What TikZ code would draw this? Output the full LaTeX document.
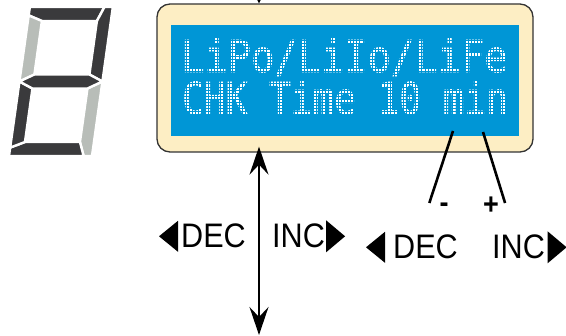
\documentclass[tikz,border=0pt]{standalone}
\usepackage{fontspec}
\usetikzlibrary{arrows.meta,calc}
\newfontfamily\lcdfonta[FakeStretch=0.88, FakeBold=1.4]{DejaVu Sans Mono}
\newfontfamily\lcdfontb[FakeStretch=0.82, FakeBold=1.4]{DejaVu Sans Mono}
\newfontfamily\keyfont[FakeStretch=0.9]{Liberation Sans}
\definecolor{lcdblue}{RGB}{0,150,214}
\definecolor{lcdcream}{RGB}{253,238,196}
\definecolor{segdark}{RGB}{58,58,60}
\definecolor{seggrey}{RGB}{184,189,184}

% triangulitos de las teclas
\newcommand\trizq[2]{\fill ($(#1.west)+(-#2,0)$) -- ++(0,15.5) -- ++(-19,-15.5) -- ++(19,-15.5) -- cycle;}
\newcommand\trder[2]{\fill ($(#1.east)+(#2,0)$) -- ++(0,16) -- ++(19,-16) -- ++(-19,-16) -- cycle;}

\tikzset{
  estilo display/.style={
      x=1pt, y=-1pt,
      lcdframe/.style={draw=black!80, line width=1.3pt, fill=lcdcream, rounded corners=13pt,
          minimum width=376pt, minimum height=148pt, inner sep=0pt},
      lcdscreen/.style={fill=lcdblue, minimum width=348pt, minimum height=111pt, inner sep=0pt},
      lcdtext/.style={text=white, inner sep=0pt, anchor=base west},
      keylbl/.style={font={\keyfont\fontsize{34}{34}\selectfont}, inner sep=0pt, anchor=base west},
      signo/.style={font={\keyfont\bfseries\fontsize{30}{30}\selectfont}, inner sep=0pt},
      segon/.style={fill=segdark, draw=white, line width=2.4pt, line join=round},
      segoff/.style={fill=seggrey, draw=white, line width=2.4pt, line join=round},
      doble/.style={arrows={Stealth[length=28pt, width=19pt, inset=10pt]-Stealth[length=28pt, width=19pt, inset=10pt]},
          line width=2pt},
      pata/.style={line width=2.6pt},
    },
}

\begin{document}
\begin{tikzpicture}[estilo display]
  \useasboundingbox (0,0) rectangle (566,336);

  % display
  \node[lcdframe] (frame) at (345,78) {};
  \node[lcdscreen] (screen) at (345,80.5) {};
  \node[lcdtext, font={\lcdfonta\fontsize{44}{44}\selectfont}] (linea1) at (181,72) {LiPo/LiIo/LiFe};
  \node[lcdtext, font={\lcdfontb\fontsize{44}{44}\selectfont}] (linea2) at (182,114) {CHK Time 10 min};
  \draw[lcdblue, line width=0.4pt, step=3.1pt] (171,136) grid (519,25);

  % flechas
  \coordinate (arriba) at (259,-2);
  \coordinate (abajo) at (259,335);
  \draw[-{Stealth[length=5pt, width=5pt]}, line width=1pt] (arriba) -- (arriba |- frame.north);
  \draw[doble, shorten <=-6pt] (abajo |- frame.south) -- (abajo);

  % teclas
  \node[keylbl] (decU) at (181,248) {DEC};
  \node[keylbl] (incU) at (272,248) {INC};
  \node[keylbl] (decD) at (393,259) {DEC};
  \node[keylbl] (incD) at (492,259) {INC};
  \trizq{decU}{3}
  \trder{incU}{1}
  \trizq{decD}{8}
  \trder{incD}{2.5}

  % - y +
  \coordinate (m1) at (453,131);
  \coordinate (m2) at (483,132);
  \node[signo] (menos) at (444,208) {-};
  \node[signo] (mas) at (491,206) {+};
  \draw[pata] (m1) -- ($(menos.north west)+(-10,0)$);
  \draw[pata] (m2) -- ($(mas.north east)+(6,6)$);

  % digito de siete segmentos
  \begin{scope}[shift={(9,156)}, y=1pt, xslant=0.14]
    \draw[segon]  (0,149) -- (74.6,149) -- (69,135) -- (14,135) -- (0,140.6) -- cycle;
    \draw[segon]  (74.6,149) -- (83,149) -- (83,74.5) -- (69,81.5) -- (69,135) -- cycle;
    \draw[segoff] (83,74.5) -- (83,0) -- (74.6,0) -- (69,14) -- (69,67.5) -- cycle;
    \draw[segon]  (0,0) -- (74.6,0) -- (69,14) -- (14,14) -- (0,8.4) -- cycle;
    \draw[segon]  (0,8.4) -- (14,14) -- (14,67.5) -- (0,74.5) -- cycle;
    \draw[segoff] (0,74.5) -- (14,81.5) -- (14,135) -- (0,140.6) -- cycle;
    \draw[segon]  (0,74.5) -- (14,67.5) -- (69,67.5) -- (83,74.5) -- (69,81.5) -- (14,81.5) -- cycle;
  \end{scope}
\end{tikzpicture}
\end{document}
